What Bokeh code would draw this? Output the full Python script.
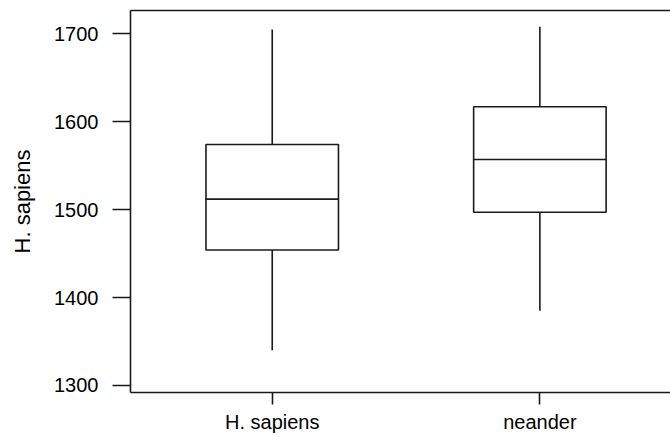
from bokeh.plotting import figure
from bokeh.models import Range1d, FixedTicker, LinearAxis, ColumnDataSource
from bokeh.embed import file_html
from bokeh.resources import INLINE

categories = ["H. sapiens", "neander"]
positions = [1, 2]
lower = [1340, 1385]
q1 = [1454, 1497]
median = [1512, 1557]
q3 = [1574, 1617]
upper = [1705, 1708]
y_ticks = [1300, 1400, 1500, 1600, 1700]

src = ColumnDataSource(dict(x=positions, lower=lower, q1=q1, median=median, q3=q3, upper=upper))

FONT = "Liberation Sans"
LINE = "#1a1a1a"

p = figure(width=670, height=437, output_backend="svg", toolbar_location=None,
           x_range=Range1d(0.4705, 2.488), y_range=Range1d(1292, 1726.5),
           x_axis_location=None, y_axis_location=None)
p.min_border_left = 130
p.min_border_right = 0
p.min_border_top = 10
p.min_border_bottom = 45
p.outline_line_color = None
p.grid.visible = False
p.background_fill_color = "white"
p.border_fill_color = "white"

# whiskers
p.segment(x0="x", y0="q3", x1="x", y1="upper", source=src, line_color=LINE, line_width=1.6)
p.segment(x0="x", y0="lower", x1="x", y1="q1", source=src, line_color=LINE, line_width=1.6)
# boxes
p.vbar(x="x", width=0.495, bottom="q1", top="q3", source=src, fill_color="white",
       line_color=LINE, line_width=1.6)
# medians
p.rect(x="x", y="median", width=0.495, height=0.001, source=src, fill_alpha=0,
       line_color=LINE, line_width=1.6)

def style(ax):
    ax.axis_line_color = LINE
    ax.axis_line_width = 1.6
    ax.major_tick_line_color = LINE
    ax.major_tick_line_width = 1.6
    ax.minor_tick_line_color = None
    ax.major_tick_in = 0
    ax.major_label_text_font = FONT
    ax.major_label_text_font_size = "20px"
    ax.major_label_text_color = "black"
    ax.axis_label_text_font = FONT
    ax.axis_label_text_font_size = "22px"
    ax.axis_label_text_font_style = "normal"
    ax.axis_label_text_color = "black"

yax = LinearAxis(ticker=FixedTicker(ticks=y_ticks), axis_label="H. sapiens")
style(yax)
yax.major_tick_out = 18
yax.major_label_standoff = 14
yax.axis_label_standoff = 16
p.add_layout(yax, "left")

xax = LinearAxis(ticker=FixedTicker(ticks=positions),
                 major_label_overrides={pos: c for pos, c in zip(positions, categories)})
style(xax)
xax.major_tick_out = 12
xax.major_label_standoff = 6
p.add_layout(xax, "below")

tax = LinearAxis(ticker=FixedTicker(ticks=[]))
style(tax)
tax.major_tick_out = 0
tax.major_label_text_font_size = "0px"
tax.major_label_standoff = 0
p.add_layout(tax, "above")

open("out.html", "w").write(file_html(p, INLINE))
